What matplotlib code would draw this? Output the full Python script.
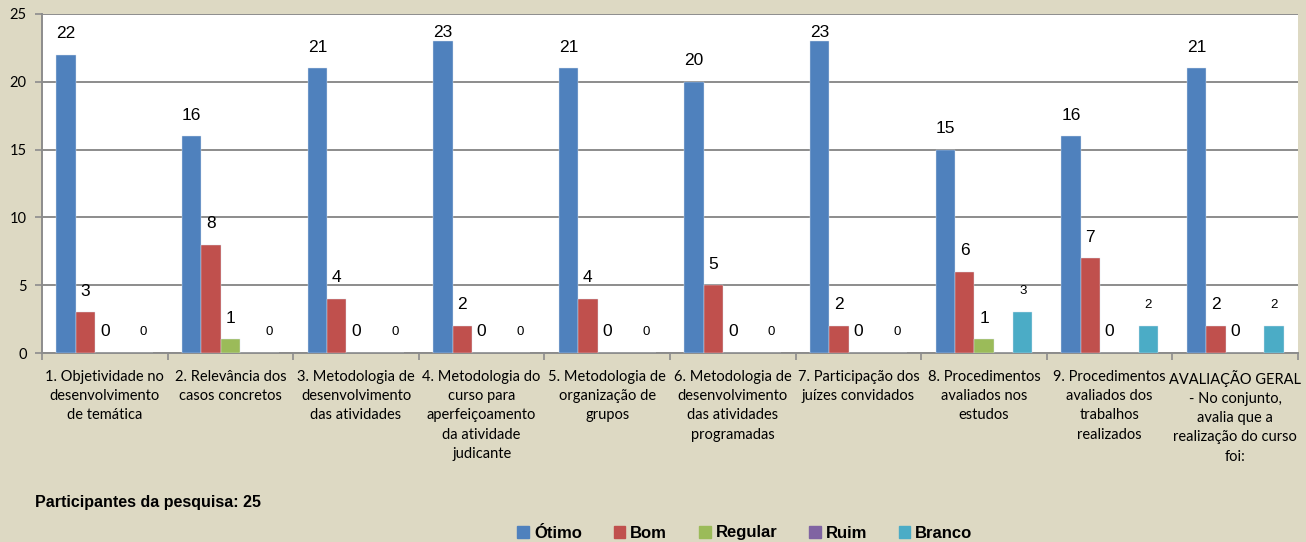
import numpy as np
import matplotlib
matplotlib.use('Agg')
from matplotlib import pyplot as plt
from matplotlib.patches import Patch

## chart data
categorias = ['1. Objetividade no\ndesenvolvimento\nde temática',
              '2. Relevância dos\ncasos concretos',
              '3. Metodologia de\ndesenvolvimento\ndas atividades',
              '4. Metodologia do\ncurso para\naperfeiçoamento\nda atividade\njudicante',
              '5. Metodologia de\norganização de\ngrupos',
              '6. Metodologia de\ndesenvolvimento\ndas atividades\nprogramadas',
              '7. Participação dos\njuízes convidados',
              '8. Procedimentos\navaliados nos\nestudos',
              '9. Procedimentos\navaliados dos\ntrabalhos\nrealizados',
              'AVALIAÇÃO GERAL\n- No conjunto,\navalia que a\nrealização do curso\nfoi:']
otimo   = [22, 16, 21, 23, 21, 20, 23, 15, 16, 21]
bom     = [3, 8, 4, 2, 4, 5, 2, 6, 7, 2]
regular = [0, 1, 0, 0, 0, 0, 0, 1, 0, 0]
ruim    = [0, 0, 0, 0, 0, 0, 0, 0, 0, 0]
branco  = [0, 0, 0, 0, 0, 0, 0, 3, 2, 2]
series_nomes = ['Ótimo', 'Bom', 'Regular', 'Ruim', 'Branco']
participantes = 25

cores = ['#4f81bd', '#c0504d', '#9bbb59', '#8064a2', '#4bacc6']
fundo = '#ddd9c3'
narrow = ['Liberation Sans Narrow', 'Liberation Sans', 'DejaVu Sans']
calibri = ['Lato', 'DejaVu Sans']

fig = plt.figure(figsize=(13.06, 5.42), dpi=100, facecolor=fundo)
ax = fig.add_axes([0.0322, 0.3487, 0.9617, 0.6255])
ax.set_facecolor('white')

series = [otimo, bom, regular, ruim, branco]
x = np.arange(len(categorias))
w = 0.154
for i, vals in enumerate(series):
    pos = x + (i - 2) * w
    ax.bar(pos, vals, w, color=cores[i], edgecolor='#dbe3ef', linewidth=0.3, zorder=3)
    if series_nomes[i] == 'Ruim':
        continue
    for px, v in zip(pos, vals):
        yl = min(v + 1.55, 23.65)
        if series_nomes[i] == 'Branco':
            ax.text(px, yl, str(v), ha='center', va='center', fontsize=9.5,
                    family=narrow, color='black', zorder=4)
        else:
            ax.text(px, yl, str(v), ha='center', va='center', fontsize=12.5,
                    family=narrow, color='black', zorder=4)

ax.set_xlim(-0.5, len(categorias) - 0.5)
ax.set_ylim(0, 25)
ax.set_yticks([0, 5, 10, 15, 20, 25])
ax.yaxis.grid(True, color='#8c8c8c', linewidth=1.4, zorder=0)
ax.set_axisbelow(True)

ax.set_xticks(x)
ax.set_xticklabels(categorias, fontsize=10.5, family=calibri, linespacing=1.48)
ax.set_xticks(np.arange(len(categorias) + 1) - 0.5, minor=True)
ax.tick_params(axis='x', which='major', length=0, pad=12)
ax.tick_params(axis='x', which='minor', length=5, color='#8c8c8c', width=1.2)
ax.tick_params(axis='y', length=5, color='#8c8c8c', width=1.2, pad=6)
for lab in ax.get_yticklabels():
    lab.set_fontsize(10.5)
    lab.set_family(calibri)

for s in ['top', 'right']:
    ax.spines[s].set_visible(False)
for s in ['left', 'bottom']:
    ax.spines[s].set_color('#8c8c8c')
    ax.spines[s].set_linewidth(1.4)

fig.text(35 / 1306, 1 - 502 / 542, 'Participantes da pesquisa: %d' % participantes,
         ha='left', va='center', fontsize=11.5, fontweight='bold', family=narrow)

handles = [Patch(color=c) for c in cores]
fig.legend(handles, series_nomes, loc='center', bbox_to_anchor=(745 / 1306, 1 - 533 / 542),
           ncol=5, frameon=False, handlelength=0.7, handleheight=0.7, handletextpad=0.3,
           columnspacing=1.9, prop={'family': narrow, 'weight': 'bold', 'size': 12})

fig.savefig('out.png', dpi=100, facecolor=fundo)
